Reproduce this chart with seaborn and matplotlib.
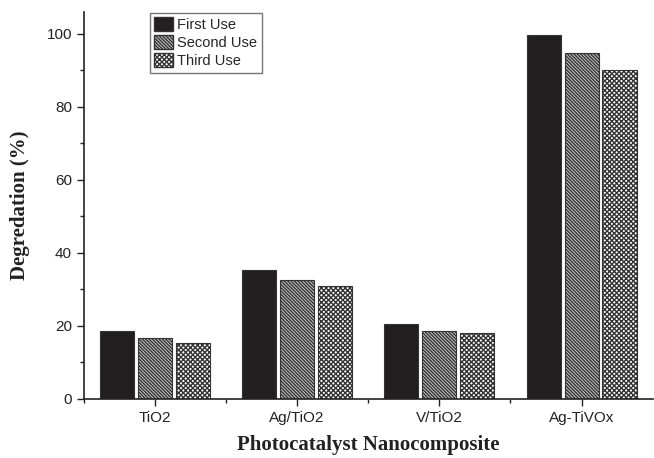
import matplotlib
matplotlib.use("Agg")
import matplotlib.pyplot as plt
import seaborn as sns
import pandas as pd
from matplotlib.ticker import MultipleLocator, FixedLocator
from matplotlib.patches import Patch

categories = ["TiO2", "Ag/TiO2", "V/TiO2", "Ag-TiVOx"]
series_names = ["First Use", "Second Use", "Third Use"]
first_use = [18.7, 35.3, 20.6, 99.8]
second_use = [16.8, 32.6, 18.5, 94.8]
third_use = [15.2, 31.0, 18.1, 90.0]

rows = []
for name, vals in zip(series_names, [first_use, second_use, third_use]):
    for c, v in zip(categories, vals):
        rows.append({"cat": c, "series": name, "val": v})
df = pd.DataFrame(rows)

sns.set_style("white")
plt.rcParams['hatch.linewidth'] = 1.0
plt.rcParams['hatch.color'] = '#2a2a2a'

fig = plt.figure(figsize=(6.54, 4.58), dpi=100)
ax = fig.add_axes([0.128, 0.129, 0.870, 0.845])

fills = ["#231f20", "#c8c8c8", "#ffffff"]
hatches = ["", "\\" * 10, "x" * 7]
sns.barplot(data=df, x="cat", y="val", hue="series", order=categories,
            hue_order=series_names, palette=fills, width=0.8, gap=0.1,
            edgecolor="#333333", linewidth=0.8, ax=ax, legend=False,
            saturation=1)

for i, cont in enumerate(ax.containers):
    for bar in cont:
        bar.set_hatch(hatches[i])
        bar.set_edgecolor("#333333")

ax.set_xlim(-0.5, 3.5)
ax.set_ylim(0, 106)
ax.yaxis.set_major_locator(MultipleLocator(20))
ax.yaxis.set_minor_locator(MultipleLocator(10))
ax.xaxis.set_minor_locator(FixedLocator([-0.5, 0.5, 1.5, 2.5]))
ax.tick_params(axis="both", which="major", direction="out", length=5,
               width=1, color="#222222", labelsize=11, left=True, bottom=True)
ax.tick_params(axis="x", which="major", pad=4)
ax.tick_params(axis="both", which="minor", direction="out", length=3,
               width=1, color="#222222", left=True, bottom=True)
for lab in ax.get_xticklabels() + ax.get_yticklabels():
    lab.set_fontfamily("Liberation Sans")
    lab.set_color("#222222")

sns.despine(ax=ax)
for s in ["left", "bottom"]:
    ax.spines[s].set_color("#222222")
    ax.spines[s].set_linewidth(1.2)

ax.set_xlabel("Photocatalyst Nanocomposite", fontfamily="Liberation Serif",
              fontweight="bold", fontsize=15, labelpad=7, color="#222222")
ax.set_ylabel("Degredation (%)", fontfamily="Liberation Serif",
              fontweight="bold", fontsize=15, labelpad=12, color="#222222")

handles = [Patch(facecolor=fills[i], edgecolor="#333333", hatch=hatches[i],
                 label=series_names[i]) for i in range(3)]
leg = ax.legend(handles=handles, loc="upper left", bbox_to_anchor=(0.116, 0.997),
                prop={"family": "Liberation Sans", "size": 10.5},
                frameon=True, fancybox=False, edgecolor="#555555",
                handlelength=1.3, handleheight=1.1, handletextpad=0.3,
                labelspacing=0.2, borderpad=0.3, borderaxespad=0.0)
leg.get_frame().set_linewidth(1.0)

fig.savefig("out.png", dpi=100)
